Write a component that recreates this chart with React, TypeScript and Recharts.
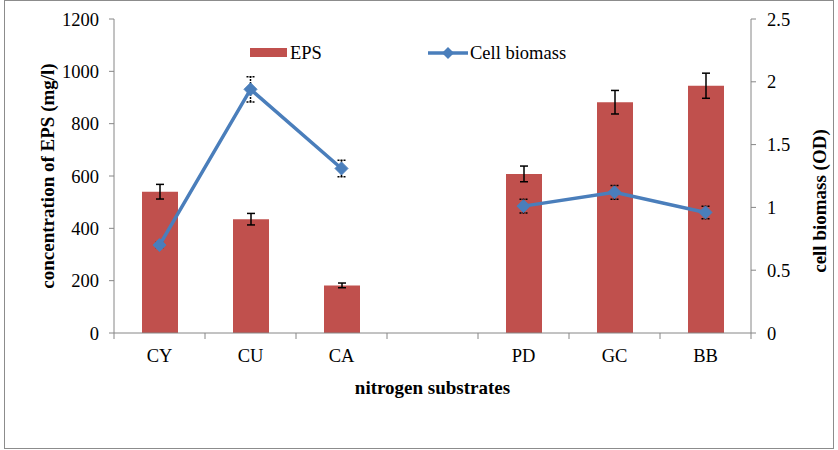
import React from 'react';
import {
  ComposedChart,
  Bar,
  Line,
  XAxis,
  YAxis,
  Legend,
  ErrorBar,
} from 'recharts';

// nitrogen substrates (blank slot separates the two groups)
const categories = ['CY', 'CU', 'CA', '', 'PD', 'GC', 'BB'];
const epsValues = [540, 435, 182, null, 608, 882, 945];
const epsErrors = [28, 22, 9, null, 30, 45, 48];
const biomassValues = [0.7, 1.94, 1.31, null, 1.01, 1.12, 0.96];
const biomassErrors = [0.02, 0.1, 0.065, null, 0.055, 0.055, 0.05];

const leftTicks = [0, 200, 400, 600, 800, 1000, 1200];
const rightTicks = [0, 0.5, 1, 1.5, 2, 2.5];

const data = categories.map((name, i) => ({
  name,
  eps: epsValues[i],
  epsErr: epsErrors[i],
  biomass: biomassValues[i],
  biomassErr: biomassErrors[i],
}));

const FONT = '"Liberation Serif", "Times New Roman", serif';
const AXIS_GRAY = '#868686';
const BAR_RED = '#C0504D';
const LINE_BLUE = '#4A7EBB';

const W = 838;
const H = 450;
const LEFT_W = 114;
const RIGHT_W = 87;
const BAND = (W - LEFT_W - RIGHT_W) / categories.length;

const tickStyle = { fontFamily: FONT, fontSize: 18.5, fill: '#000' };

function CategoryTick(props: any) {
  const { x, y, payload, index } = props;
  const half = payload && payload.offset ? payload.offset : BAND / 2;
  return (
    <g>
      <line x1={x - half} y1={y} x2={x - half} y2={y + 6} stroke={AXIS_GRAY} />
      {index === categories.length - 1 && (
        <line x1={x + half} y1={y} x2={x + half} y2={y + 6} stroke={AXIS_GRAY} />
      )}
      <text x={x} y={y + 29} textAnchor="middle" {...tickStyle}>
        {payload.value}
      </text>
    </g>
  );
}

// rotated bold axis title, placed relative to the axis box
function VerticalTitle(text: string, fromLeft: number | null, fromRight: number | null, shiftY: number) {
  return (props: any) => {
    const vb = props.viewBox || {};
    const x = fromLeft != null ? vb.x + fromLeft : vb.x + vb.width - (fromRight || 0);
    const y = vb.y + vb.height / 2 + shiftY;
    return (
      <text
        x={x}
        y={y}
        transform={`rotate(-90 ${x} ${y})`}
        textAnchor="middle"
        dominantBaseline="central"
        fontFamily={FONT}
        fontSize={19}
        fontWeight="bold"
        fill="#000"
      >
        {text}
      </text>
    );
  };
}

function Diamond(props: any) {
  const { cx, cy } = props;
  if (cx == null || cy == null || props.value == null) return null;
  const s = 6.5;
  return (
    <polygon
      points={`${cx},${cy - s} ${cx + s},${cy} ${cx},${cy + s} ${cx - s},${cy}`}
      fill={LINE_BLUE}
      stroke={LINE_BLUE}
    />
  );
}

function ChartLegend() {
  return (
    <svg width={340} height={24} style={{ display: 'block' }}>
      <rect x={10} y={8} width={37} height={9} fill={BAR_RED} />
      <text x={50} y={19} fontFamily={FONT} fontSize={18.5} fill="#000">EPS</text>
      <line x1={188} y1={13} x2={228} y2={13} stroke={LINE_BLUE} strokeWidth={3.5} />
      <polygon points="208,7 214,13 208,19 202,13" fill={LINE_BLUE} />
      <text x={230} y={19} fontFamily={FONT} fontSize={18.5} fill="#000">Cell biomass</text>
    </svg>
  );
}

export default function App() {
  return (
    <div style={{ position: 'absolute', left: 0, top: 0, width: W, height: H, background: '#fff' }}>
      <div
        style={{
          position: 'absolute',
          left: 4,
          top: 0,
          width: 828,
          height: 447,
          border: '1px solid #8c8c8c',
        }}
      />
      <div style={{ position: 'absolute', left: 0, top: 0 }}>
        <ComposedChart
          width={W}
          height={H}
          data={data}
          margin={{ top: 19, right: 0, bottom: 0, left: 0 }}
        >
          <XAxis
            dataKey="name"
            xAxisId="x"
            height={117}
            interval={0}
            tickLine={false}
            tickSize={0}
            tickMargin={0}
            tick={<CategoryTick />}
            axisLine={{ stroke: AXIS_GRAY }}
            label={{
              value: 'nitrogen substrates',
              position: 'insideTop',
              offset: 48,
              style: { fontFamily: FONT, fontSize: 19, fontWeight: 'bold', fill: '#000' },
            }}
          />
          <YAxis
            yAxisId="left"
            width={LEFT_W}
            domain={[0, 1200]}
            ticks={leftTicks}
            interval={0}
            tickSize={5}
            tickMargin={10}
            axisLine={{ stroke: AXIS_GRAY }}
            tickLine={{ stroke: AXIS_GRAY }}
            tick={tickStyle}
            label={{ content: VerticalTitle('concentration of EPS (mg/l)', 47, null, 0) }}
          />
          <YAxis
            yAxisId="right"
            orientation="right"
            width={RIGHT_W}
            domain={[0, 2.5]}
            ticks={rightTicks}
            interval={0}
            tickSize={5}
            tickMargin={11}
            axisLine={{ stroke: AXIS_GRAY }}
            tickLine={{ stroke: AXIS_GRAY }}
            tick={tickStyle}
            label={{ content: VerticalTitle('cell biomass (OD)', null, 19, 25) }}
          />
          <Legend
            verticalAlign="middle"
            layout="horizontal"
            content={() => <ChartLegend />}
            wrapperStyle={{ top: 40, left: 240, width: 340 }}
          />
          <Bar
            dataKey="eps"
            name="EPS"
            xAxisId="x"
            yAxisId="left"
            fill={BAR_RED}
            barSize={36}
            isAnimationActive={false}
          >
            <ErrorBar dataKey="epsErr" width={4} stroke="#000" strokeWidth={1.5} />
          </Bar>
          <Line
            dataKey="biomass"
            name="Cell biomass"
            xAxisId="x"
            yAxisId="right"
            stroke={LINE_BLUE}
            strokeWidth={3.5}
            dot={<Diamond />}
            activeDot={false}
            connectNulls={false}
            isAnimationActive={false}
          >
            <ErrorBar dataKey="biomassErr" width={4} stroke="#000" strokeWidth={1.5} strokeDasharray="2 1" />
          </Line>
        </ComposedChart>
      </div>
    </div>
  );
}
